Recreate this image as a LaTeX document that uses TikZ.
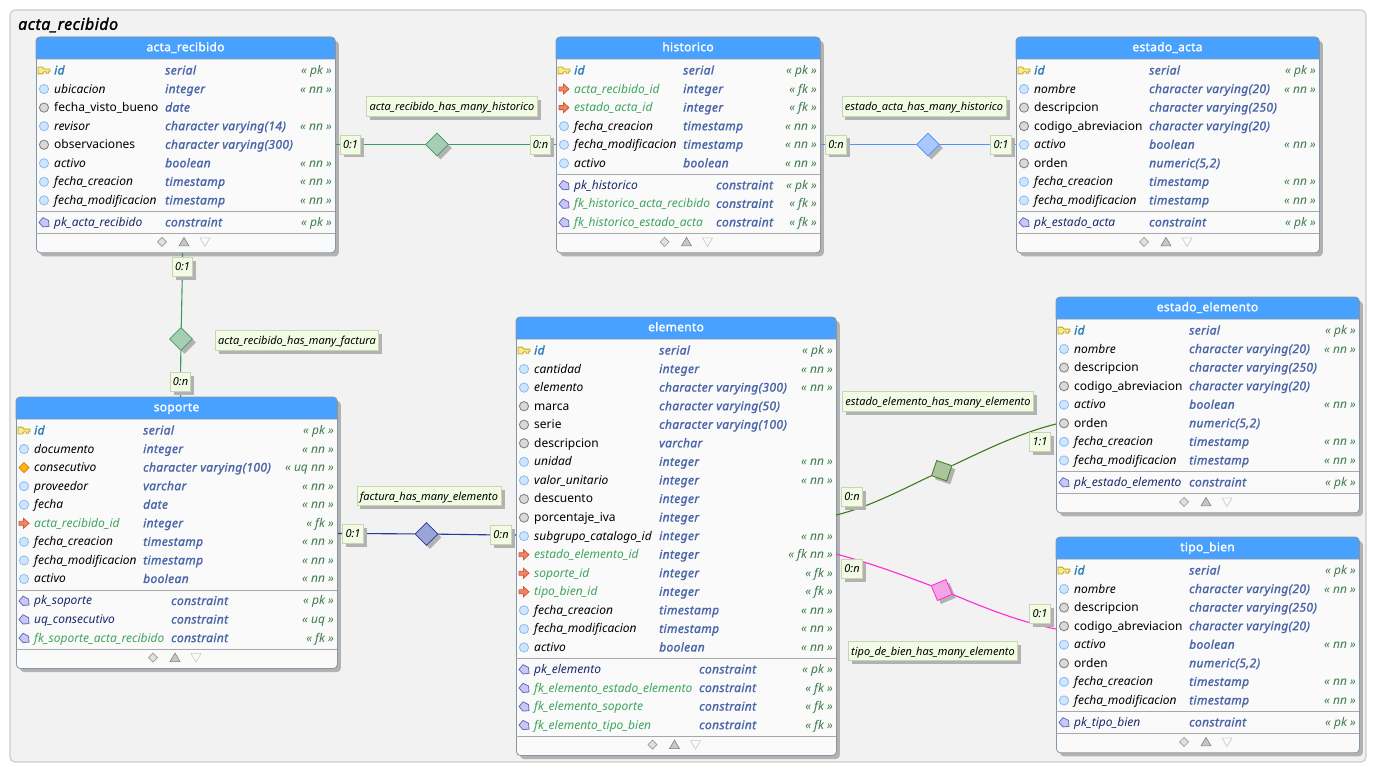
\documentclass[tikz,border=0pt]{standalone}
\usepackage{fontspec}
\setmainfont{Noto Sans}[BoldFont={Noto Sans},BoldFeatures={FakeBold=1.5,LetterSpace=2.5},BoldItalicFont={Noto Sans/I},BoldItalicFeatures={FakeBold=1.5,LetterSpace=3}]
\usetikzlibrary{shapes.geometric,shadows,positioning}
\catcode`\_=12
\pgfdeclarelayer{front}
\pgfsetlayers{main,front}
\definecolor{headblue}{HTML}{48A0FF}
\definecolor{tabborder}{HTML}{8596A6}
\definecolor{sepgray}{HTML}{A8A8A8}
\definecolor{cardfill}{HTML}{F2FBE3}
\definecolor{cardline}{HTML}{C8D4B4}
\definecolor{typeblue}{HTML}{4A66A8}
\definecolor{taggreen}{HTML}{3C7A4C}
\definecolor{fkgreen}{HTML}{3FA45F}
\definecolor{pkblue}{HTML}{2A7AB8}
\definecolor{consnavy}{HTML}{1C2A6C}
\definecolor{relgreen}{HTML}{3C9A62}
\definecolor{relgreenfill}{HTML}{A8CDB5}
\definecolor{relblue}{HTML}{4A90FF}
\definecolor{relbluefill}{HTML}{A8C8FF}
\definecolor{relnavy}{HTML}{2838A0}
\definecolor{relnavyfill}{HTML}{9AA4D8}
\definecolor{relolive}{HTML}{3F7A1E}
\definecolor{relolivefill}{HTML}{ABC49B}
\definecolor{relpink}{HTML}{FF2BD6}
\definecolor{relpinkfill}{HTML}{F4A4E6}
\definecolor{keyfill}{HTML}{F7EB8A}
\definecolor{keyline}{HTML}{BFA72E}
\definecolor{nnfill}{HTML}{CFE5FF}
\definecolor{nnline}{HTML}{8FC1F0}
\definecolor{fkfill}{HTML}{F0846A}
\definecolor{fkline}{HTML}{D05838}
\definecolor{consfill}{HTML}{C8C8F8}
\definecolor{consline}{HTML}{6A6AB8}
\tikzset{
  x=1pt, y=-1pt,
  softshadow/.style={drop shadow={shadow xshift=3.5pt,shadow yshift=-3.5pt,fill=black!30,opacity=1}},
  tablebody/.style={draw=tabborder, line width=0.8pt, fill=white!98!black, rounded corners=4pt, inner sep=0, softshadow},
  tabletitle/.style={text=white, text height=9pt, text depth=3pt, font=\fontsize{12}{14}\selectfont\bfseries, inner sep=0},
  colname/.style={anchor=west, inner sep=0, text height=9pt, text depth=3pt, font=\fontsize{12}{14}\selectfont},
  colpk/.style={text=pkblue, font=\fontsize{12}{14}\selectfont\bfseries\itshape},
  colnn/.style={font=\fontsize{12}{14}\selectfont\itshape},
  coluq/.style={font=\fontsize{12}{14}\selectfont\itshape},
  colnul/.style={},
  colfk/.style={text=fkgreen, font=\fontsize{12}{14}\selectfont\itshape},
  colcpk/.style={text=consnavy, font=\fontsize{12}{14}\selectfont\itshape},
  colcfk/.style={text=fkgreen, font=\fontsize{12}{14}\selectfont\itshape},
  coltype/.style={anchor=west, inner sep=0, text height=9pt, text depth=3pt, text=typeblue, font=\fontsize{12}{14}\selectfont\bfseries\itshape},
  coltag/.style={anchor=east, inner sep=0, text height=9pt, text depth=3pt, text=taggreen, font=\fontsize{12}{14}\selectfont\itshape},
  cardbox/.style={draw=cardline, fill=cardfill, line width=0.8pt, minimum width=20.5pt, minimum height=19pt, inner sep=0, font=\fontsize{11}{13}\selectfont\itshape, softshadow},
  relbox/.style={draw=cardline, fill=cardfill, line width=0.8pt, minimum height=19.5pt, inner xsep=3pt, inner ysep=0, text height=10pt, text depth=2pt, font=\fontsize{11}{13}\selectfont\itshape, softshadow},
  reldiamond/.style={diamond, aspect=1, minimum size=23pt, inner sep=0, line width=0.8pt, softshadow},
  rel/.style={line width=1.1pt}
}
% column marks, all drawn round their centre
\newcommand{\markpk}[2]{\filldraw[draw=keyline, fill=keyfill, line width=0.8pt] (#1-6,#2-3.4) -- (#1-1.5,#2-3.4) -- (#1,#2-1.4) -- (#1+6,#2-1.4) -- (#1+6,#2+1.2) -- (#1+4.4,#2+1.2) -- (#1+4.4,#2+2.8) -- (#1+2,#2+2.8) -- (#1+2,#2+1.2) -- (#1,#2+1.2) -- (#1-1.5,#2+3.4) -- (#1-6,#2+3.4) -- cycle;}
\newcommand{\marknn}[2]{\filldraw[draw=nnline, fill=nnfill, line width=0.9pt] (#1,#2) circle (4.6pt);}
\newcommand{\marknul}[2]{\filldraw[draw=black!48, fill=black!15, line width=0.9pt] (#1,#2) circle (4.6pt);}
\newcommand{\markuq}[2]{\filldraw[draw=orange!80!black!90, fill=orange!55!yellow, line width=0.6pt] (#1-5,#2) -- (#1,#2-5) -- (#1+5,#2) -- (#1,#2+5) -- cycle;}
\newcommand{\markfk}[2]{\filldraw[draw=fkline, fill=fkfill, line width=0.8pt] (#1-5,#2-2) -- (#1-.5,#2-2) -- (#1-.5,#2-5) -- (#1+5,#2) -- (#1-.5,#2+5) -- (#1-.5,#2+2) -- (#1-5,#2+2) -- cycle;}
\newcommand{\markcpk}[2]{\filldraw[draw=consline, fill=consfill, line width=0.8pt] (#1-5,#2) -- (#1-1,#2-4.8) -- (#1+4.5,#2-2) -- (#1+5,#2+4) -- (#1-1,#2+4.5) -- cycle;}
\let\markcfk\markcpk
% name, left, top, width, type column, constraint type column, title, columns, constraints
\newcommand{\dbtable}[9]{%
  \foreach \x [count=\n] in {#8} {\global\let\ncols\n}
  \foreach \x [count=\n] in {#9} {\global\let\ncons\n}
  \pgfmathsetmacro\ysepa{#3+33.5+(\ncols-1)*18.56+11}
  \pgfmathsetmacro\ysepb{\ysepa+22+(\ncons-1)*18.56}
  \pgfmathsetmacro\tabh{\ysepb+19-#3}
  \pgfmathsetmacro\tabc{#2+#4/2}
  \node[tablebody, anchor=north west, minimum width=#4pt, minimum height=\tabh pt] (#1) at (#2,#3) {};
  \filldraw[draw=tabborder, fill=headblue, line width=0.8pt, rounded corners=4pt] (#2,#3+11) -- (#2,#3) -- (#2+#4,#3) -- (#2+#4,#3+11) [sharp corners] -- (#2+#4,#3+22) -- (#2,#3+22) -- cycle;
  \node[tabletitle] (#1-title) at (\tabc,#3+11.2) {#7};
  \foreach \kind/\cname/\ctype/\ctag [count=\idx from 0] in {#8} {
    \pgfmathsetmacro\ry{#3+33.5+\idx*18.56}
    \csname mark\kind\endcsname{#2+8}{\ry}
    \node[colname,col\kind] (#1-col\idx) at (#2+18,\ry+1) {\cname};
    \node[coltype] (#1-type\idx) at (#2+#5,\ry+1) {\ctype};
    \node[coltag] (#1-tag\idx) at (#2+#4-3,\ry+1) {\ctag};
  }
  \draw[draw=sepgray, line width=0.9pt] (#2,\ysepa) -- (#2+#4,\ysepa);
  \foreach \kind/\cname/\ctype/\ctag [count=\idx from 0] in {#9} {
    \pgfmathsetmacro\ry{\ysepa+11+\idx*18.56}
    \csname mark\kind\endcsname{#2+8}{\ry}
    \node[colname,col\kind] (#1-con\idx) at (#2+18,\ry+1) {\cname};
    \node[coltype] (#1-ctype\idx) at (#2+#6,\ry+1) {\ctype};
    \node[coltag] (#1-ctag\idx) at (#2+#4-3,\ry+1) {\ctag};
  }
  \draw[draw=sepgray, line width=0.9pt] (#2,\ysepb) -- (#2+#4,\ysepb);
  \pgfmathsetmacro\ry{\ysepb+8.5}
  \filldraw[draw=black!40, fill=black!12, line width=0.6pt] (\tabc-28,\ry) -- (\tabc-23.5,\ry-4.5) -- (\tabc-19,\ry) -- (\tabc-23.5,\ry+4.5) -- cycle;
  \filldraw[draw=black!50, fill=black!22, line width=0.6pt] (\tabc-6.5,\ry+4) -- (\tabc-1.5,\ry-4.5) -- (\tabc+3.5,\ry+4) -- cycle;
  \filldraw[draw=black!22, fill=black!2, line width=0.6pt] (\tabc+14.5,\ry-4) -- (\tabc+24.5,\ry-4) -- (\tabc+19.5,\ry+4.5) -- cycle;
}
\begin{document}
\begin{tikzpicture}
  \useasboundingbox (0,0) rectangle (1377,773);
  \filldraw[draw=black!20, fill=black!5, line width=1.2pt, rounded corners=5pt] (10,10) rectangle (1366,762);
  \node[anchor=west, inner sep=0, font=\fontsize{16}{18}\selectfont\bfseries\itshape] (schema) at (18,25) {acta_recibido};

  \dbtable{acta_recibido}{36}{37}{299}{129}{129}{acta_recibido}{
    pk/id/serial/« pk », nn/ubicacion/integer/« nn », nul/fecha_visto_bueno/date/,
    nn/revisor/character varying(14)/« nn », nul/observaciones/character varying(300)/,
    nn/activo/boolean/« nn », nn/fecha_creacion/timestamp/« nn », nn/fecha_modificacion/timestamp/« nn »}{
    cpk/pk_acta_recibido/constraint/« pk »}
  \dbtable{historico}{556}{37}{264}{127}{160}{historico}{
    pk/id/serial/« pk », fk/acta_recibido_id/integer/« fk », fk/estado_acta_id/integer/« fk »,
    nn/fecha_creacion/timestamp/« nn », nn/fecha_modificacion/timestamp/« nn », nn/activo/boolean/« nn »}{
    cpk/pk_historico/constraint/« pk », cfk/fk_historico_acta_recibido/constraint/« fk »,
    cfk/fk_historico_estado_acta/constraint/« fk »}
  \dbtable{estado_acta}{1016}{37}{303}{133}{133}{estado_acta}{
    pk/id/serial/« pk », nn/nombre/character varying(20)/« nn », nul/descripcion/character varying(250)/,
    nul/codigo_abreviacion/character varying(20)/, nn/activo/boolean/« nn », nul/orden/{numeric(5,2)}/,
    nn/fecha_creacion/timestamp/« nn », nn/fecha_modificacion/timestamp/« nn »}{
    cpk/pk_estado_acta/constraint/« pk »}
  \dbtable{soporte}{16}{397}{321}{127}{155}{soporte}{
    pk/id/serial/« pk », nn/documento/integer/« nn », uq/consecutivo/character varying(100)/« uq nn »,
    nn/proveedor/varchar/« nn », nn/fecha/date/« nn », fk/acta_recibido_id/integer/« fk »,
    nn/fecha_creacion/timestamp/« nn », nn/fecha_modificacion/timestamp/« nn », nn/activo/boolean/« nn »}{
    cpk/pk_soporte/constraint/« pk », cpk/uq_consecutivo/constraint/« uq »,
    cfk/fk_soporte_acta_recibido/constraint/« fk »}
  \dbtable{elemento}{516}{317}{320}{143}{183}{elemento}{
    pk/id/serial/« pk », nn/cantidad/integer/« nn », nn/elemento/character varying(300)/« nn »,
    nul/marca/character varying(50)/, nul/serie/character varying(100)/, nul/descripcion/varchar/,
    nn/unidad/integer/« nn », nn/valor_unitario/integer/« nn », nul/descuento/integer/, nul/porcentaje_iva/integer/,
    nn/subgrupo_catalogo_id/integer/« nn », fk/estado_elemento_id/integer/« fk nn », fk/soporte_id/integer/« fk »,
    fk/tipo_bien_id/integer/« fk », nn/fecha_creacion/timestamp/« nn », nn/fecha_modificacion/timestamp/« nn »,
    nn/activo/boolean/« nn »}{
    cpk/pk_elemento/constraint/« pk », cfk/fk_elemento_estado_elemento/constraint/« fk »,
    cfk/fk_elemento_soporte/constraint/« fk », cfk/fk_elemento_tipo_bien/constraint/« fk »}
  \dbtable{estado_elemento}{1056}{297}{303}{133}{133}{estado_elemento}{
    pk/id/serial/« pk », nn/nombre/character varying(20)/« nn », nul/descripcion/character varying(250)/,
    nul/codigo_abreviacion/character varying(20)/, nn/activo/boolean/« nn », nul/orden/{numeric(5,2)}/,
    nn/fecha_creacion/timestamp/« nn », nn/fecha_modificacion/timestamp/« nn »}{
    cpk/pk_estado_elemento/constraint/« pk »}
  \dbtable{tipo_bien}{1056}{537}{303}{133}{133}{tipo_bien}{
    pk/id/serial/« pk », nn/nombre/character varying(20)/« nn », nul/descripcion/character varying(250)/,
    nul/codigo_abreviacion/character varying(20)/, nn/activo/boolean/« nn », nul/orden/{numeric(5,2)}/,
    nn/fecha_creacion/timestamp/« nn », nn/fecha_modificacion/timestamp/« nn »}{
    cpk/pk_tipo_bien/constraint/« pk »}

  % relationships
  \node[reldiamond, draw=relgreen, fill=relgreenfill] (r_historico) at (437,144.5) {};
  \node[reldiamond, draw=relblue, fill=relbluefill] (r_estado_acta) at (928,144.5) {};
  \node[reldiamond, draw=relgreen, fill=relgreenfill] (r_factura) at (181,339) {};
  \node[reldiamond, draw=relnavy, fill=relnavyfill] (r_elemento) at (426.5,534) {};
  \node[reldiamond, rotate=26, draw=relolive, fill=relolivefill] (r_estado_elemento) at (941.7,470.7) {};
  \node[reldiamond, rotate=-22, draw=relpink, fill=relpinkfill] (r_tipo_bien) at (941.7,590) {};

  \begin{pgfonlayer}{front}
  \node[cardbox] (c_hist_a) at (350.5,144.5) {0:1};
  \node[cardbox] (c_hist_b) at (540.5,144.5) {0:n};
  \node[cardbox] (c_est_a) at (836,144.5) {0:n};
  \node[cardbox] (c_est_b) at (1001,144.5) {0:1};
  \node[cardbox] (c_fac_a) at (182.5,267) {0:1};
  \node[cardbox] (c_fac_b) at (180.5,382) {0:n};
  \node[cardbox] (c_ele_a) at (353,533.5) {0:1};
  \node[cardbox] (c_ele_b) at (501,535) {0:n};
  \node[cardbox] (c_bien_a) at (852,569) {0:n};
  \node[cardbox] (c_bien_b) at (1040,614) {0:1};
  \node[cardbox] (c_ee_a) at (852,496.7) {0:n};
  \node[cardbox] (c_ee_b) at (1040,441.7) {1:1};
  \end{pgfonlayer}
  \coordinate (p_ee_a) at (836,515);
  \coordinate (p_ee_b) at (1056,424);
  \coordinate (p_bien_a) at (836,554);
  \coordinate (p_bien_b) at (1056,629);

  \draw[rel, draw=relgreen] (acta_recibido.east |- c_hist_a) -- (c_hist_a) (c_hist_a) -- (r_historico) -- (c_hist_b) (c_hist_b) -- (historico.west |- c_hist_b);
  \draw[rel, draw=relblue] (historico.east |- c_est_a) -- (c_est_a) (c_est_a) -- (r_estado_acta) -- (c_est_b) (c_est_b) -- (estado_acta.west |- c_est_b);
  \draw[rel, draw=relgreen] (acta_recibido.south -| c_fac_a) -- (c_fac_a) (c_fac_a) -- (r_factura) -- (c_fac_b) (c_fac_b) -- (soporte.north -| c_fac_b);
  \draw[rel, draw=relnavy] (soporte.east |- c_ele_a) -- (c_ele_a) (c_ele_a) -- (r_elemento) -- (c_ele_b) (c_ele_b) -- (elemento.west |- c_ele_b);
  \draw[rel, draw=relolive] (p_ee_a) .. controls (870,507) and (905,488) .. (r_estado_elemento.west);
  \draw[rel, draw=relolive] (r_estado_elemento.east) .. controls (985,450) and (1020,433) .. (p_ee_b);
  \draw[rel, draw=relpink] (p_bien_a) .. controls (870,563) and (900,574) .. (r_tipo_bien.west);
  \draw[rel, draw=relpink] (r_tipo_bien.east) .. controls (985,608) and (1020,622) .. (p_bien_b);

  \node[relbox] (l_historico) at (452,106.5) {acta_recibido_has_many_historico};
  \node[relbox] (l_estado_acta) at (924,106.5) {estado_acta_has_many_historico};
  \node[relbox] (l_factura) at (297,340.5) {acta_recibido_has_many_factura};
  \node[relbox] (l_elemento) at (429,496) {factura_has_many_elemento};
  \node[relbox] (l_estado_elemento) at (938,401.5) {estado_elemento_has_many_elemento};
  \node[relbox] (l_tipo_bien) at (933,651) {tipo_de_bien_has_many_elemento};
\end{tikzpicture}
\end{document}
